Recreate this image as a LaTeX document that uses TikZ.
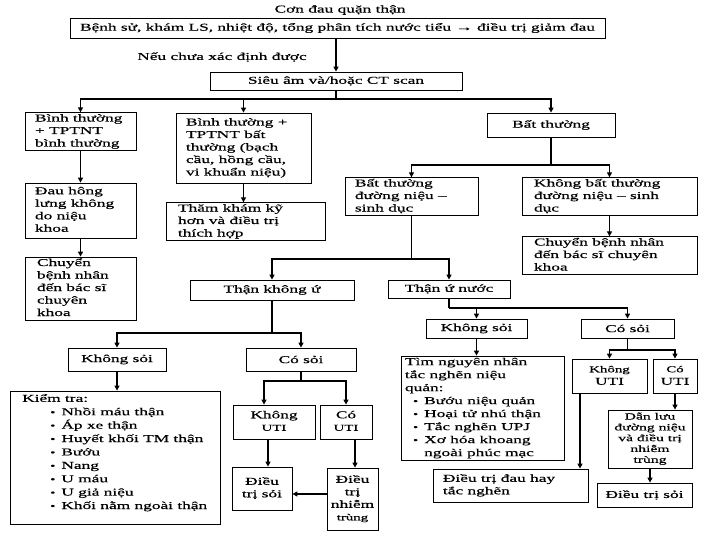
\documentclass[tikz,border=0pt]{standalone}
\usepackage{fontspec}
\setmainfont{Liberation Serif}[FakeStretch=1.65, FakeBold=0.5]
\usetikzlibrary{arrows.meta}
\newcommand{\mybul}{{\small\textbullet}\hspace{6pt}}
\newcommand{\ltab}[2]{\begin{tabular}{@{}p{#1}@{}}#2\end{tabular}}
\newcommand{\ctab}[1]{\begin{tabular}{@{}c@{}}#1\end{tabular}}
\newcommand{\sm}{\fontsize{9}{11}\selectfont}
\begin{document}
\begin{tikzpicture}[x=1pt,y=-1pt,
  every node/.style={font=\fontsize{10.5}{12.5}\selectfont},
  box/.style={draw, line width=0.8pt, inner xsep=4pt, inner ysep=0pt},
  lbox/.style={box, inner xsep=10pt},
  arr/.style={line width=1.3pt, -{Triangle[length=5pt,width=5pt]}},
  ln/.style={line width=1.3pt}]
\useasboundingbox[fill=white] (0,0) rectangle (720,540);

% top
\node (title) at (340,10) {Cơn đau quặn thận};
\node[box, minimum width=535pt, minimum height=20pt] (bx1) at (337.5,28)
  {Bệnh sử, khám LS, nhiệt độ, tổng phân tích nước tiểu → điều trị giảm đau};
\node (neu) at (222,57) {Nếu chưa xác định được};
\node[box, minimum width=252pt, minimum height=18pt] (sa) at (336,81) {Siêu âm và/hoặc CT scan};

% row 2
\node[lbox, minimum width=111pt, minimum height=37pt] (a1) at (80.5,131.5)
  {\ltab{91pt}{Bình thường\\+ TPTNT\\bình thường}};
\node[lbox, minimum width=135pt, minimum height=70pt] (b1) at (243.5,148)
  {\ltab{115pt}{Bình thường +\\TPTNT bất\\thường (bạch\\cầu, hồng cầu,\\vi khuẩn niệu)}};
\node[box, minimum width=128pt, minimum height=24pt] (c1) at (551,125) {Bất thường};

\node[lbox, minimum width=111pt, minimum height=55pt] (a2) at (80.5,210.5)
  {\ltab{91pt}{Đau hông\\lưng không\\do niệu\\khoa}};
\node[lbox, minimum width=111pt, minimum height=63pt, inner xsep=12pt] (a3) at (80.5,288.5)
  {\ltab{87pt}{Chuyển\\bệnh nhân\\đến bác sĩ\\chuyên\\khoa}};
\node[lbox, minimum width=159pt, minimum height=37pt, inner xsep=12pt] (b2) at (245.5,221.5)
  {\ltab{135pt}{Thăm khám kỹ\\hơn và điều trị\\thích hợp}};

\node[lbox, minimum width=133pt, minimum height=33pt] (d1) at (411.5,196.5)
  {\ltab{113pt}{Bất thường\\đường niệu –\\sinh dục}};
\node[lbox, minimum width=175pt, minimum height=33pt, inner xsep=12pt] (d2) at (609.5,196.5)
  {\ltab{151pt}{Không bất thường\\đường niệu – sinh\\dục}};
\node[lbox, minimum width=175pt, minimum height=37pt, inner xsep=12pt] (d3) at (609.5,255.5)
  {\ltab{151pt}{Chuyển bệnh nhân\\đến bác sĩ chuyên\\khoa}};

\node[box, minimum width=164pt, minimum height=20pt] (tk) at (272,290) {Thận không ứ};
\node[box, minimum width=122pt, minimum height=18pt] (tu) at (449,289) {Thận ứ nước};

% left lower
\node[box, minimum width=98pt, minimum height=23pt] (ks1) at (117,359.5) {Không sỏi};
\node[box, minimum width=110pt, minimum height=23pt] (cs1) at (301,359.5) {Có sỏi};
\node[box, minimum width=210pt, minimum height=133pt] (kt) at (115,457.5) {};
\node[anchor=north west, align=left, inner sep=0pt, font=\fontsize{10.5}{13.4}\selectfont] (ktt) at (22,394)
  {Kiểm tra:\\
   \hspace*{28pt}\mybul Nhồi máu thận\\
   \hspace*{28pt}\mybul Áp xe thận\\
   \hspace*{28pt}\mybul Huyết khối TM thận\\
   \hspace*{28pt}\mybul Bướu\\
   \hspace*{28pt}\mybul Nang\\
   \hspace*{28pt}\mybul U máu\\
   \hspace*{28pt}\mybul U giả niệu\\
   \hspace*{28pt}\mybul Khối nằm ngoài thận};
\node[box, minimum width=82pt, minimum height=34pt] (kuti1) at (274,422)
  {\ctab{Không\\{\sm UTI}}};
\node[box, minimum width=52pt, minimum height=34pt] (cuti1) at (346,422)
  {\ctab{Có\\{\sm UTI}}};
\node[box, minimum width=60pt, minimum height=43pt] (dts1) at (262,488.5) {\ctab{Điều\\trị sỏi}};
\node[box, minimum width=51pt, minimum height=62pt, inner xsep=2pt] (dtnt) at (352.5,499)
  {\ctab{Điều\\trị\\nhiễm\\{\sm trùng}}};

% right lower
\node[box, minimum width=101pt, minimum height=19pt] (ks2) at (476.5,328.5) {Không sỏi};
\node[box, minimum width=93pt, minimum height=19pt] (cs2) at (627.5,328.5) {Có sỏi};
\node[box, minimum width=163pt, minimum height=104pt, font=\fontsize{10.5}{13}\selectfont] (tnn) at (482.5,408)
  {\ltab{155pt}{Tìm nguyên nhân\\tắc nghẽn niệu\\quản:\\
   \hspace*{8pt}\mybul Bướu niệu quản\\
   \hspace*{8pt}\mybul Hoại tử nhú thận\\
   \hspace*{8pt}\mybul Tắc nghẽn UPJ\\
   \hspace*{8pt}\mybul Xơ hóa khoang\\
   \hspace*{8pt}\phantom{\mybul}ngoài phúc mạc}};
\node[box, minimum width=75pt, minimum height=34pt] (kuti2) at (609.5,376)
  {\ctab{{\sm Không}\\UTI}};
\node[box, minimum width=44pt, minimum height=34pt, inner xsep=2pt] (cuti2) at (675,376)
  {\ctab{{\sm Có}\\UTI}};
\node[lbox, minimum width=155pt, minimum height=33pt] (dttn) at (510.5,485.5)
  {\ltab{135pt}{Điều trị đau hay\\tắc nghẽn}};
\node[box, minimum width=84pt, minimum height=58pt, font=\fontsize{9.5}{10.8}\selectfont] (dl) at (650,439)
  {\ctab{Dẫn lưu\\đường niệu\\và điều trị\\nhiễm\\trùng}};
\node[box, minimum width=95pt, minimum height=24pt] (dts2) at (644.5,495) {Điều trị sỏi};

% connectors
\draw[arr] (bx1.south -| sa.north) -- (sa.north);
\coordinate (j1) at (336,99);
\draw[ln] (sa.south) -- (j1);
\draw[arr] (j1) -| (a1.north);
\draw[arr] (j1) -| (c1.north);
\draw[arr] (j1 -| b1.north) -- (b1.north);
\draw[arr] (a1.south) -- (a2.north);
\draw[arr] (a2.south) -- (a3.north);
\draw[arr] (b1.south) -- (b1.south |- b2.north);

\coordinate (j2) at (551,165);
\draw[ln] (c1.south) -- (j2);
\draw[arr] (j2) -| (d1.north);
\draw[arr] (j2) -| (d2.north);
\draw[arr] (d2.south) -- (d3.north);

\coordinate (j3) at (411.5,259);
\draw[ln] (d1.south) -- (j3);
\draw[arr] (j3) -| (tk.north);
\draw[arr] (j3) -| (tu.north);

\coordinate (j4) at (449,308);
\draw[ln] (tu.south) -- (j4);
\draw[arr] (j4) -| (cs2.north);
\draw[arr] (j4 -| ks2.north) -- (ks2.north);
\draw[arr] (ks2.south) -- (ks2.south |- tnn.north);

\coordinate (j5) at (627.5,350);
\draw[ln] (cs2.south) -- (j5);
\draw[arr] (j5) -| (kuti2.north);
\draw[arr] (j5) -| (cuti2.north);
\coordinate (p1) at (580,0);
\draw[arr] (kuti2.south -| p1) -- (dttn.north -| p1);
\draw[arr] (cuti2.south) -- (cuti2.south |- dl.north);
\draw[arr] (dl.south) -- (dl.south |- dts2.north);

\coordinate (j6) at (272,333);
\draw[ln] (tk.south) -- (j6);
\draw[arr] (j6) -| (ks1.north);
\draw[arr] (j6) -| (cs1.north);
\draw[arr] (ks1.south) -- (ks1.south |- kt.north);

\coordinate (j7) at (301,381);
\coordinate (p2) at (264,0);
\coordinate (p4) at (268,0);
\coordinate (p5) at (355,0);
\coordinate (p6) at (0,494);
\draw[ln] (cs1.south) -- (j7);
\draw[arr] (j7) -| (p2 |- kuti1.north);
\draw[arr] (j7) -| (cuti1.north);
\draw[arr] (kuti1.south -| p4) -- (dts1.north -| p4);
\draw[arr] (cuti1.south -| p5) -- (dtnt.north -| p5);
\draw[arr] (dtnt.west |- p6) -- (dts1.east |- p6);
\end{tikzpicture}
\end{document}
